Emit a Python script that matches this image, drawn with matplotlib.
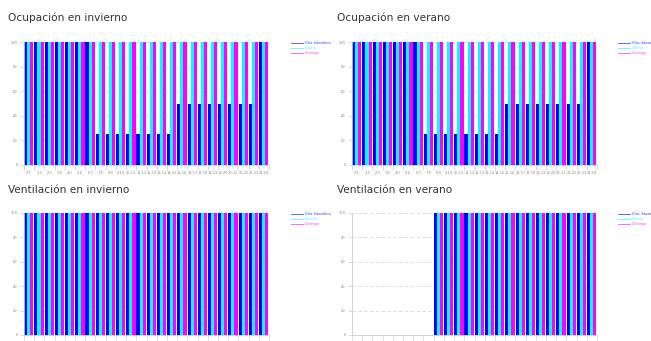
import matplotlib
matplotlib.use("Agg")
import matplotlib.pyplot as plt
from matplotlib.lines import Line2D
import numpy as np

# Hour bands shown on the x axis
hours = [f"{h}-{h + 1}" for h in range(24)]

series_names = ["Días laborables", "Sábado", "Domingo"]
series_colors = ["#0000ff", "#00ffff", "#ff00ff"]

# Occupancy (%) per hour, winter
occ_winter_weekday = [100, 100, 100, 100, 100, 100, 100, 25, 25, 25, 25, 25, 25, 25, 25,
                      50, 50, 50, 50, 50, 50, 50, 50, 100]
occ_winter_saturday = [100] * 24
occ_winter_sunday = [100] * 24

# Occupancy (%) per hour, summer
occ_summer_weekday = [100, 100, 100, 100, 100, 100, 100, 25, 25, 25, 25, 25, 25, 25, 25,
                      50, 50, 50, 50, 50, 50, 50, 50, 100]
occ_summer_saturday = [100] * 24
occ_summer_sunday = [100] * 24

# Ventilation (%) per hour, winter
vent_winter_weekday = [100] * 24
vent_winter_saturday = [100] * 24
vent_winter_sunday = [100] * 24

# Ventilation (%) per hour, summer
vent_summer_weekday = [0, 0, 0, 0, 0, 0, 0, 0] + [100] * 16
vent_summer_saturday = [0, 0, 0, 0, 0, 0, 0, 0] + [100] * 16
vent_summer_sunday = [0, 0, 0, 0, 0, 0, 0, 0] + [100] * 16

panels = [
    ("Ocupación en invierno", [occ_winter_weekday, occ_winter_saturday, occ_winter_sunday]),
    ("Ocupación en verano", [occ_summer_weekday, occ_summer_saturday, occ_summer_sunday]),
    ("Ventilación en invierno", [vent_winter_weekday, vent_winter_saturday, vent_winter_sunday]),
    ("Ventilación en verano", [vent_summer_weekday, vent_summer_saturday, vent_summer_sunday]),
]

W, H = 651, 341
fig = plt.figure(figsize=(W / 100, H / 100), dpi=100)

# pixel boxes: (left, top, right, bottom) of each plot area
boxes = [
    (24, 42, 269, 165),
    (352, 42, 597, 165),
    (24, 213, 269, 335),
    (352, 213, 597, 335),
]
title_pos = [(8, 18), (337, 18), (8, 190), (337, 190)]
legend_x = [291, 618, 291, 618]
# the lower row's hour labels fall below the bottom edge of the figure
show_hour_labels = [True, True, False, False]

grey = "#cccccc"
label_grey = "#888888"
bar_w = 0.3

for (title, values), (l, t, r, b), (tx, ty), lx, show_lbl in zip(
        panels, boxes, title_pos, legend_x, show_hour_labels):
    ax = fig.add_axes([l / W, 1 - b / H, (r - l) / W, (b - t) / H])
    idx = np.arange(len(hours))
    for k, (vals, col) in enumerate(zip(values, series_colors)):
        ax.bar(idx + 0.02 + k * bar_w, vals, width=bar_w + 0.01, align="edge",
               color=col, linewidth=0, zorder=2)
    ax.set_xlim(0, len(hours))
    ax.set_ylim(0, 100)

    ax.set_yticks(range(0, 101, 20))
    ax.set_yticklabels([str(v) for v in range(0, 101, 20)])
    ax.yaxis.grid(True, color="#d8d8d8", linestyle=(0, (4, 3)), linewidth=0.6, zorder=0)
    ax.set_axisbelow(True)

    ax.set_xticks(np.arange(len(hours) + 1))
    ax.set_xticklabels([])
    ax.set_xticks(idx + 0.5, minor=True)
    ax.set_xticklabels(hours if show_lbl else [], minor=True)
    ax.tick_params(axis="x", which="major", length=3.5, width=0.5, color=grey)
    ax.tick_params(axis="x", which="minor", length=0, pad=4.5, labelsize=2.6,
                   labelcolor=label_grey)
    ax.tick_params(axis="y", length=3, width=0.5, color=grey, labelsize=2.6,
                   labelcolor=label_grey, pad=1.5)

    for side in ("top", "right"):
        ax.spines[side].set_visible(False)
    for side in ("left", "bottom"):
        ax.spines[side].set_color(grey)
        ax.spines[side].set_linewidth(0.6)

    fig.text(tx / W, 1 - ty / H, title, fontsize=7.6, color="#333333",
             ha="left", va="center", family="DejaVu Sans")

    # legend: coloured line plus coloured label
    for k, (name, col) in enumerate(zip(series_names, series_colors)):
        yy = 1 - (t + 1 + k * 5.2) / H
        fig.add_artist(Line2D([lx / W, (lx + 12) / W], [yy, yy], color=col,
                              linewidth=0.6, alpha=0.7))
        fig.text((lx + 14) / W, yy, name, fontsize=2.4, color=col, alpha=0.75,
                 ha="left", va="center")

fig.savefig("out.png", dpi=100)
